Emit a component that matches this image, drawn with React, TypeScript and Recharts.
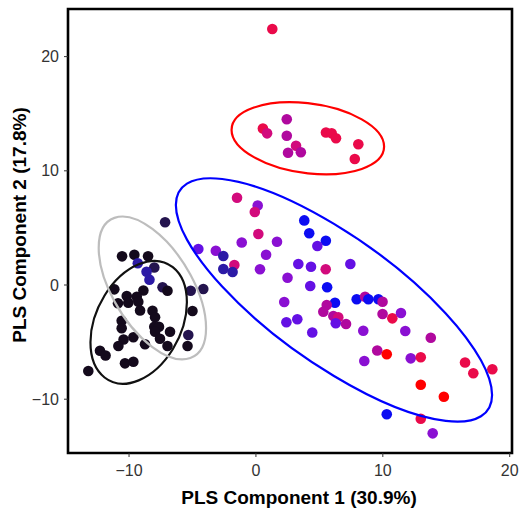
import { ScatterChart, Scatter, XAxis, YAxis, ReferenceArea } from 'recharts'

const X_DOMAIN = [-14.81, 20.18]
const Y_DOMAIN = [-14.71, 24.17]
const X_TICKS = [-10, 0, 10, 20]
const Y_TICKS = [-10, 0, 10, 20]

// shade index runs from black (0) through blue (3) and purple to red (9)
const SHADES = ['#140a1c', '#24144e', '#2c1aa6', '#0c0cf2', '#6410e4', '#8a10d2', '#b0089e', '#d20a7c', '#ea0a4a', '#ff0000']

// [PLS 1, PLS 2, shade]
const blackGroup = [
  [-7.16, 5.49, 1], [-10.55, 2.51, 0], [-9.58, 2.65, 0], [-8.5, 2.51, 0], [-9.31, 1.9, 2],
  [-8.01, 1.53, 1], [-8.62, 1.16, 2], [-8.39, 0.47, 2], [-7.36, -0.2, 1], [-6.97, -0.5, 0],
  [-5.14, -0.5, 1], [-4.15, -0.35, 1], [-11.16, -0.38, 0], [-10.18, -0.96, 0], [-8.87, -0.48, 0],
  [-9.39, -1.03, 0], [-10.87, -1.6, 0], [-10.06, -1.55, 0], [-9.27, -1.46, 0], [-9.13, -2.23, 0],
  [-8.15, -2.25, 0], [-7.95, -2.83, 0], [-5.0, -2.28, 0], [-10.58, -3.13, 0], [-10.58, -3.79, 0],
  [-8.01, -3.65, 0], [-7.64, -3.65, 0], [-7.95, -4.09, 0], [-6.77, -4.09, 0], [-10.43, -4.77, 0],
  [-9.66, -4.58, 0], [-7.56, -4.71, 0], [-5.33, -4.38, 1], [-10.84, -5.34, 0], [-8.74, -5.19, 0],
  [-6.97, -5.34, 0], [-5.39, -5.34, 0], [-12.29, -5.75, 0], [-11.85, -6.17, 0], [-10.32, -6.86, 0],
  [-9.66, -6.72, 0], [-13.21, -7.53, 0],
]

const blueGroup = [
  [-1.49, 7.64, 7], [0.14, 6.96, 5], [-0.09, 6.39, 7], [0.19, 4.47, 7], [-1.12, 3.72, 5],
  [1.66, 3.79, 5], [-4.54, 3.15, 4], [-3.16, 3.0, 5], [-2.57, 2.54, 2], [0.8, 2.65, 5],
  [-1.7, 1.75, 7], [-2.57, 1.4, 2], [-1.84, 1.14, 2], [0.32, 1.38, 5], [2.49, 0.64, 5],
  [2.23, -1.49, 5], [2.4, -3.26, 4], [3.81, 5.66, 3], [4.2, 4.53, 3], [5.51, 3.87, 3],
  [4.84, 3.42, 4], [3.34, 1.84, 4], [4.34, 1.6, 4], [5.5, 1.38, 7], [7.44, 1.84, 4],
  [4.28, -0.09, 4], [5.61, -0.2, 3], [6.23, -1.55, 3], [7.94, -1.25, 3], [8.6, -1.03, 6],
  [8.86, -1.25, 3], [9.65, -1.25, 3], [9.98, -1.46, 6], [5.58, -1.75, 6], [5.31, -2.34, 6],
  [6.1, -2.72, 6], [6.49, -2.83, 7], [6.29, -3.35, 4], [7.1, -3.42, 6], [9.98, -2.54, 6],
  [10.75, -2.92, 8], [11.43, -2.45, 5], [3.26, -3.0, 4], [4.44, -4.16, 4], [8.46, -4.01, 5],
  [9.56, -5.74, 6], [11.77, -4.03, 5], [13.78, -4.62, 6], [10.31, -6.06, 9], [8.54, -6.66, 5],
  [12.2, -6.42, 5], [12.99, -6.33, 8], [16.48, -6.79, 8], [17.13, -7.73, 8], [18.63, -7.37, 8],
  [12.99, -8.73, 9], [14.81, -9.78, 9], [10.31, -11.32, 3], [12.99, -11.71, 8], [13.93, -12.99, 5],
]

const redGroup = [
  [1.29, 22.42, 8], [2.43, 14.52, 6], [0.55, 13.7, 8], [0.88, 13.28, 7], [2.43, 13.07, 6],
  [5.52, 13.35, 8], [5.97, 13.28, 8], [6.31, 12.85, 8], [8.07, 12.33, 8], [3.16, 12.2, 7],
  [3.54, 11.63, 6], [2.53, 11.58, 6], [7.79, 11.03, 8],
]

// ellipse: centre, end of one semi-diameter, end of its conjugate
const blackEllipse = [[-9.24, -3.27], [-5.44, -1.52], [-9.24, -8.35]]
const greyEllipse = [[-8.16, -0.26], [-3.93, -3.77], [-8.16, -5.43]]
const blueEllipse = [[6.15, -1.31], [18.61, -9.63], [6.15, -7.97]]
const redEllipse = [[4.09, 12.85], [10.1, 12.12], [4.09, 9.78]]

const toPoints = (rows: number[][]) => rows.map(([x, y, s]) => ({ x, y, s }))

const minus = (v: number) => (v < 0 ? `\u2212${Math.abs(v)}` : `${v}`)

const dot = (p: any) => <circle cx={p.cx} cy={p.cy} r={5.3} fill={SHADES[p.payload.s]} />

function ellipseLine(color: string) {
  return (props: any) => {
    const pts = props.points
    if (!pts || pts.length < 3) return <g />
    const [c, u, v] = pts
    const m = `matrix(${u.x - c.x} ${u.y - c.y} ${v.x - c.x} ${v.y - c.y} ${c.x} ${c.y})`
    return (
      <ellipse cx={0} cy={0} rx={1} ry={1} transform={m} fill="none" stroke={color}
        strokeWidth={2.2} vectorEffect="non-scaling-stroke" />
    )
  }
}

const font = '"Liberation Sans", Arial, sans-serif'

export default function App() {
  const ellipses: [number[][], string][] = [
    [blackEllipse, '#111111'],
    [greyEllipse, '#bdbdbd'],
    [blueEllipse, '#0000ff'],
    [redEllipse, '#ff0000'],
  ]
  return (
    <div style={{ position: 'absolute', left: 0, top: 0, background: '#fff', fontFamily: font }}>
      <ScatterChart width={520} height={510} margin={{ top: 9, right: 8, bottom: 0, left: 0 }}>
        <XAxis
          type="number"
          dataKey="x"
          domain={X_DOMAIN}
          ticks={X_TICKS}
          allowDataOverflow
          height={57}
          axisLine={false}
          tickSize={4}
          tickMargin={8}
          tickLine={{ stroke: '#333' }}
          tick={{ fill: '#333', fontSize: 16, fontFamily: font }}
          tickFormatter={minus}
          label={{
            content: () => (
              <text x={299} y={504} textAnchor="middle" fontSize={19} fontWeight="bold" fill="#000" fontFamily={font}>
                PLS Component 1 (30.9%)
              </text>
            ),
          }}
        />
        <YAxis
          type="number"
          dataKey="y"
          domain={Y_DOMAIN}
          ticks={Y_TICKS}
          allowDataOverflow
          width={68}
          axisLine={false}
          tickSize={4}
          tickMargin={5}
          tickLine={{ stroke: '#333' }}
          tick={{ fill: '#333', fontSize: 16, fontFamily: font }}
          tickFormatter={minus}
          label={{
            content: () => (
              <text x={26} y={225} transform="rotate(-90 26 225)" textAnchor="middle" fontSize={19}
                fontWeight="bold" fill="#000" fontFamily={font}>
                PLS Component 2 (17.8%)
              </text>
            ),
          }}
        />
        <Scatter data={toPoints(blackGroup)} shape={dot} isAnimationActive={false} />
        <Scatter data={toPoints(blueGroup)} shape={dot} isAnimationActive={false} />
        <Scatter data={toPoints(redGroup)} shape={dot} isAnimationActive={false} />
        {ellipses.map(([rows, color], i) => (
          <Scatter
            key={i}
            data={toPoints(rows)}
            shape={() => <g />}
            line={ellipseLine(color)}
            lineType="joint"
            isAnimationActive={false}
          />
        ))}
        <ReferenceArea
          x1={X_DOMAIN[0]}
          x2={X_DOMAIN[1]}
          y1={Y_DOMAIN[0]}
          y2={Y_DOMAIN[1]}
          fill="none"
          stroke="#000"
          strokeWidth={2.6}
          ifOverflow="visible"
        />
      </ScatterChart>
    </div>
  )
}
